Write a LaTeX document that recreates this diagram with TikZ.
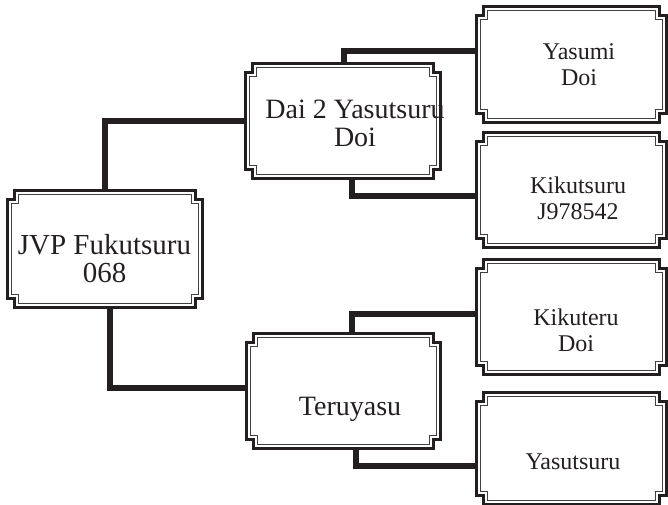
\documentclass[tikz,border=0pt]{standalone}
\usepackage{fontspec}
\setmainfont{Liberation Serif}
\usetikzlibrary{positioning,calc}

\definecolor{ink}{HTML}{231F20}
\newcommand\notchw{7}
\newcommand\notchh{9}
% frame with cut corners: node, inset, style
\newcommand\notchbox[3]{%
  \draw[#3] ($(#1.north west)+(#2+\notchw,-#2)$)
    -- ($(#1.north east)+(-#2-\notchw,-#2)$) -- ++(0,-\notchh) -- ++(\notchw,0)
    -- ($(#1.south east)+(-#2,#2+\notchh)$) -- ++(-\notchw,0) -- ++(0,-\notchh)
    -- ($(#1.south west)+(#2+\notchw,#2)$) -- ++(0,\notchh) -- ++(-\notchw,0)
    -- ($(#1.north west)+(#2,-#2-\notchh)$) -- ++(\notchw,0) -- cycle;}

\tikzset{
  box/.style={rectangle, inner sep=0pt, outer sep=0pt,
    minimum width=195pt, minimum height=115pt},
  leaf/.style={box, minimum width=190pt},
  link/.style={draw=ink, line width=6pt},
  outer frame/.style={draw=ink, line width=3pt},
  inner frame/.style={draw=ink!85, line width=1pt},
  boxtext/.style={align=center, inner sep=0pt, text=ink},
}

\begin{document}
\begin{tikzpicture}[x=1pt,y=1pt]
  \useasboundingbox (0,0) rectangle (668,-505);
  % boxes
  \node[box, minimum height=117pt] (root) at (104.5,-248.5) {};
  \node[box, minimum height=114pt, above right=12pt and 43pt of root] (dai) {};
  \node[box, minimum width=194pt, below right=26pt and 44pt of root] (teru) {};
  \node[leaf, minimum height=116pt] (yasumi) at (571,-65) {};
  \node[leaf, minimum height=114pt, below=10pt of yasumi] (kikutsuru) {};
  \node[leaf, below=12pt of kikutsuru] (kikuteru) {};
  \node[leaf, minimum height=112pt, below=18pt of kikuteru] (yasutsuru) {};

  \foreach \n in {root,dai,teru,yasumi,kikutsuru,kikuteru,yasutsuru}{
    \notchbox{\n}{0}{outer frame}
    \notchbox{\n}{4}{inner frame}
  }

  % texts
  \node[boxtext, font=\fontsize{29}{28.5}\selectfont] (root-text)
    at ([shift={(0,-10)}]root.center) {JVP Fukutsuru\\068};
  \node[boxtext, font=\fontsize{28}{28}\selectfont] (dai-text)
    at ([shift={(12.5,-2.5)}]dai.center) {Dai 2 Yasutsuru\\Doi};
  \node[boxtext, font=\fontsize{28}{28}\selectfont] (teru-text)
    at ([shift={(7,-18.5)}]teru.center) {Teruyasu};
  \node[boxtext, font=\fontsize{24}{26}\selectfont] (yasumi-text)
    at ([shift={(8,0)}]yasumi.center) {Yasumi\\Doi};
  \node[boxtext, font=\fontsize{24}{26}\selectfont] (kikutsuru-text)
    at ([shift={(7,-8)}]kikutsuru.center) {Kikutsuru\\J978542};
  \node[boxtext, font=\fontsize{24}{26}\selectfont] (kikuteru-text)
    at ([shift={(5,-13.5)}]kikuteru.center) {Kikuteru\\Doi};
  \node[boxtext, font=\fontsize{24}{26}\selectfont] (yasutsuru-text)
    at ([shift={(2,-14)}]yasutsuru.center) {Yasutsuru};

  % connectors
  \draw[link] (root.north) |- (dai.west);
  \draw[link] ([xshift=5pt]root.south) |- ([yshift=2.5pt]teru.west);
  \draw[link] ([xshift=1.5pt]dai.north) |- ([yshift=14pt]yasumi.west);
  \draw[link] ([xshift=9.5pt]dai.south) |- ([yshift=-5.5pt]kikutsuru.west);
  \draw[link] ([xshift=8.5pt]teru.north) |- ([yshift=3pt]kikuteru.west);
  \draw[link] ([xshift=12.5pt]teru.south) |- ([yshift=-18pt]yasutsuru.west);
\end{tikzpicture}
\end{document}
